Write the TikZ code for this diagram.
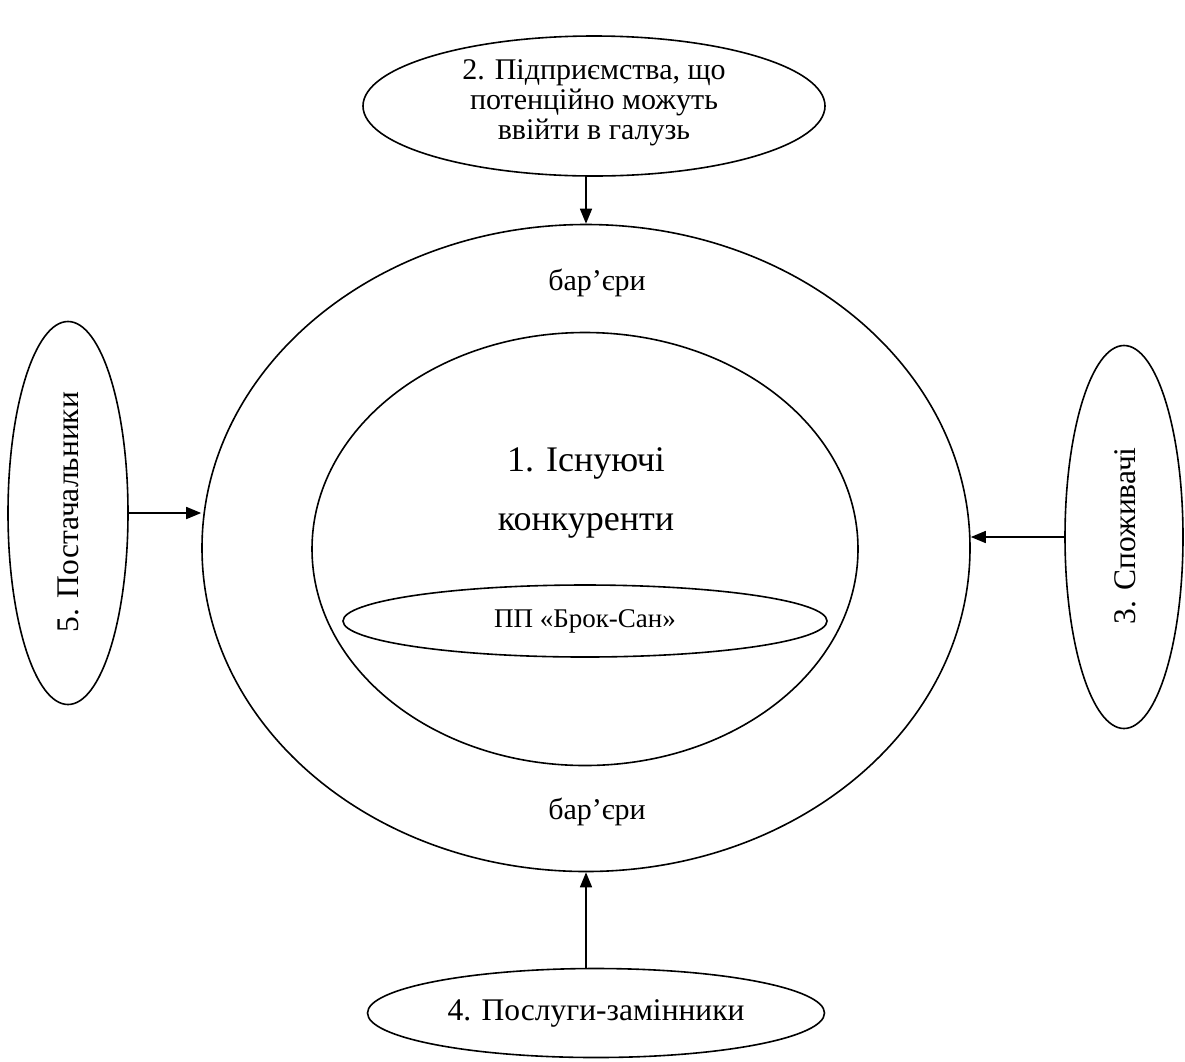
\documentclass[tikz,border=0pt]{standalone}
\usepackage{fontspec}
\setmainfont{Liberation Serif}
\usetikzlibrary{shapes.geometric,arrows.meta}
\begin{document}
\begin{tikzpicture}[x=1pt,y=-1pt,
  oval/.style={draw,ellipse,line width=1.6pt,inner sep=0pt,align=center},
  arr/.style={line width=1.6pt,-{Triangle[length=15pt,width=12pt]}},
  lbl/.style={inner sep=0pt,align=center}]
\useasboundingbox (0,0) rectangle (1185,1061);
\node[oval,minimum width=462pt,minimum height=140pt] (ent) at (594,106) {};
\node[lbl,font=\fontsize{30}{30}\selectfont] (enttxt) at (594,103)
  {2. Підприємства, що\\потенційно можуть\\ввійти в галузь};
\node[oval,minimum width=768pt,minimum height=647pt] (big) at (586,548) {};
\node[oval,minimum width=546pt,minimum height=433pt] (inner) at (585,549) {};
\node[oval,minimum width=484pt,minimum height=72pt,font=\fontsize{27}{29}\selectfont] (firm) at (585,621) {ПП «Брок-Сан»};
\node[lbl,font=\fontsize{36}{59}\selectfont] (comp) at (586,493) {1. Існуючі\\конкуренти};
\node[lbl,font=\fontsize{30}{32}\selectfont] (bar1) at (597,283) {бар’єри};
\node[lbl,font=\fontsize{30}{32}\selectfont] (bar2) at (597,812) {бар’єри};
\node[oval,minimum width=120pt,minimum height=383pt] (sup) at (68,513) {};
\node[lbl,rotate=90,font=\fontsize{31.5}{33}\selectfont] (suptxt) at (68,512) {5. Постачальники};
\node[oval,minimum width=118pt,minimum height=383pt] (cons) at (1124,537) {};
\node[lbl,rotate=90,font=\fontsize{31.5}{33}\selectfont] (constxt) at (1125,536) {3. Споживачі};
\node[oval,minimum width=457pt,minimum height=89pt,font=\fontsize{31.5}{33}\selectfont] (subs) at (596,1013) {4. Послуги-замінники};
\draw[arr] (big.north |- ent.south) -- (big.north);
\draw[arr] (big.south |- subs.north) -- (big.south);
\draw[arr] (sup.east) -- (sup.east -| big.west);
\draw[arr] (cons.west) -- (cons.west -| big.east);
\end{tikzpicture}
\end{document}
